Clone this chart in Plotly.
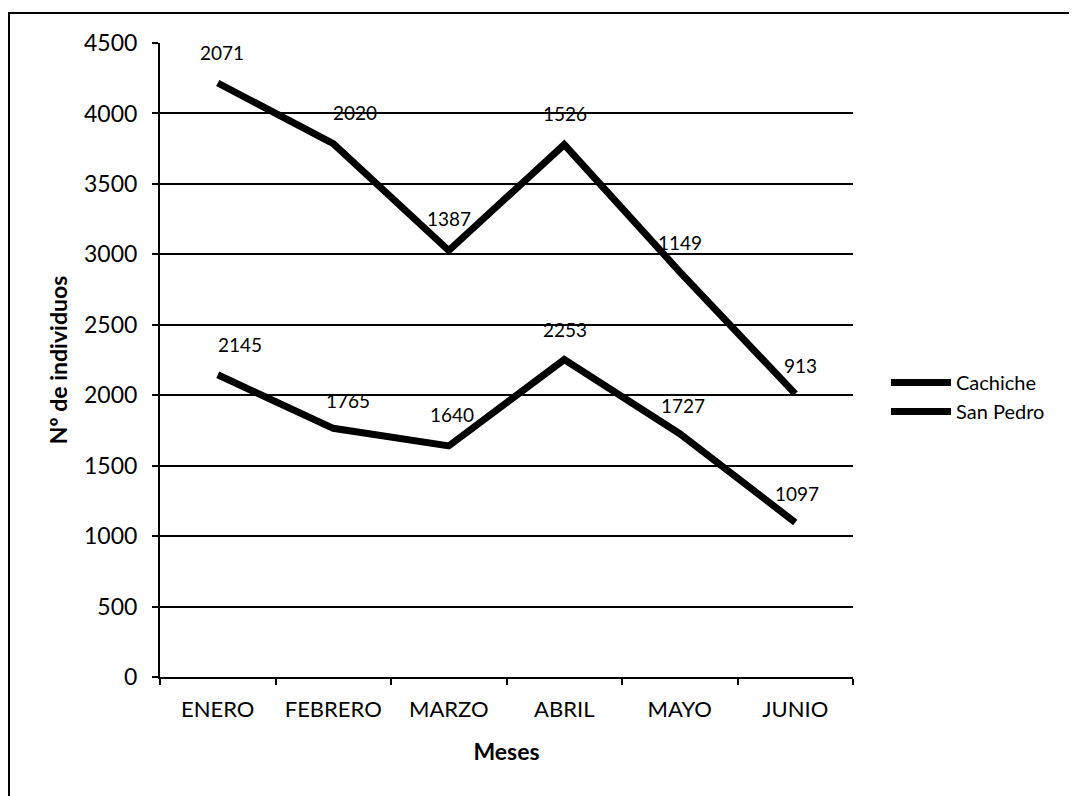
import plotly.graph_objects as go

meses = ["ENERO", "FEBRERO", "MARZO", "ABRIL", "MAYO", "JUNIO"]
san_pedro = [2145, 1765, 1640, 2253, 1727, 1097]
cachiche = [2071, 2020, 1387, 1526, 1149, 913]
y_ticks = [0, 500, 1000, 1500, 2000, 2500, 3000, 3500, 4000, 4500]

FONT = "Lato"
OFF = 8  # page body margin
W, H = 1077 - OFF, 796 - OFF
# plot area in page pixels: x 160..853, y 43..677
L, T = 160 - OFF, 43 - OFF
R = W - (853 - OFF)
B = H - (677 - OFF)

fig = go.Figure()
fig.add_trace(go.Scatter(x=meses, y=san_pedro, name="San Pedro", mode="lines",
                         stackgroup="s", fill="none",
                         line=dict(color="black", width=7)))
fig.add_trace(go.Scatter(x=meses, y=cachiche, name="Cachiche", mode="lines",
                         stackgroup="s", fill="none",
                         line=dict(color="black", width=7)))

# data labels
sp_shift = [22, 15, 3, 1, 3, 2]
sp_yshift = [30, 28, 31, 30, 28, 29]
ca_shift = [4, 22, 0, 1, 0, 5]
ca_yshift = [31, 31, 32, 31, 29, 28]
for i, m in enumerate(meses):
    fig.add_annotation(x=m, y=san_pedro[i], text=str(san_pedro[i]), showarrow=False,
                       xshift=sp_shift[i], yshift=sp_yshift[i],
                       font=dict(family=FONT, size=19, color="black"))
    fig.add_annotation(x=m, y=san_pedro[i] + cachiche[i], text=str(cachiche[i]), showarrow=False,
                       xshift=ca_shift[i], yshift=ca_yshift[i],
                       font=dict(family=FONT, size=19, color="black"))

pw, ph = W - L - R, H - T - B
def px(x): return (x - OFF - L) / pw
def py(y): return (H - B - (y - OFF)) / ph

# outer frame (top and left edges)
fig.add_shape(type="line", xref="paper", yref="paper", x0=px(8), x1=px(1077), y0=py(13), y1=py(13),
              line=dict(color="black", width=2))
fig.add_shape(type="line", xref="paper", yref="paper", x0=px(9), x1=px(9), y0=py(13), y1=py(796),
              line=dict(color="black", width=2))

fig.update_layout(
    width=W, height=H,
    margin=dict(l=L, r=R, t=T, b=B),
    paper_bgcolor="white", plot_bgcolor="white",
    font=dict(family=FONT, size=22, color="black"),
    showlegend=True,
    legend=dict(traceorder="reversed", x=px(886), y=py(363), xanchor="left", yanchor="top",
                font=dict(family=FONT, size=20, color="black"), itemwidth=60, tracegroupgap=0,
                bgcolor="rgba(0,0,0,0)"),
    xaxis=dict(title=dict(text="<b>Meses</b>", font=dict(family=FONT, size=23), standoff=22),
               range=[-0.5, 5.5], showline=True, linecolor="black", linewidth=2,
               ticks="outside", tickson="boundaries", ticklen=6, tickcolor="black", tickwidth=2,
               ticklabelstandoff=12,
               showgrid=False, zeroline=False, tickfont=dict(family=FONT, size=22)),
    yaxis=dict(title=dict(text="<b>Nº de individuos</b>", font=dict(family=FONT, size=23), standoff=10),
               range=[0, 4500], tickvals=y_ticks, showline=True, linecolor="black", linewidth=2,
               ticks="outside", ticklen=6, tickcolor="black", tickwidth=2,
               ticklabelstandoff=10,
               showgrid=True, gridcolor="black", gridwidth=2, zeroline=False,
               tickfont=dict(family=FONT, size=23)),
)

fig.write_html("out.html")
